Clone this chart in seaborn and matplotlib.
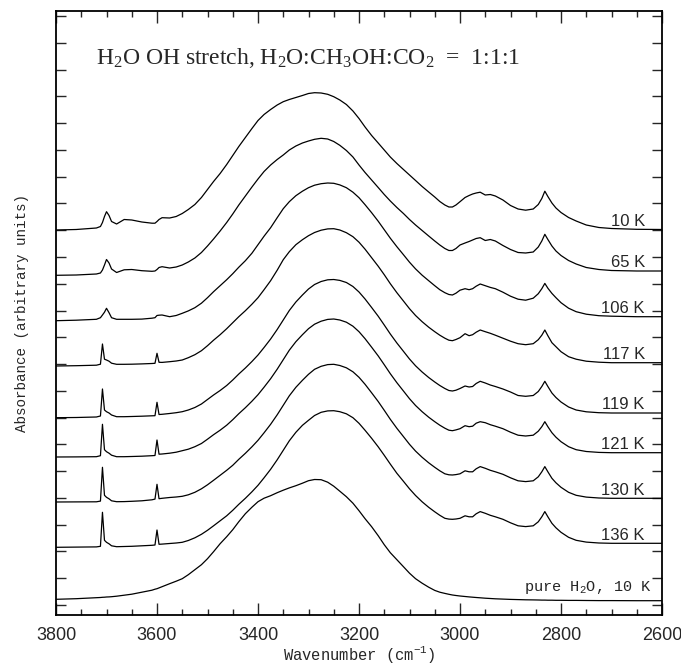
import numpy as np
import pandas as pd
import matplotlib
matplotlib.use("Agg")
import matplotlib.pyplot as plt
from matplotlib import ticker
import seaborn as sns

# wavenumber grid (cm-1) shared by all spectra
wavenumber = [3800, 3760, 3720, 3712, 3708, 3704, 3700, 3695, 3690, 3680,
              3665, 3650, 3630, 3610, 3604, 3600, 3596, 3590, 3575, 3562,
              3550, 3538, 3525, 3512, 3500, 3488, 3475, 3462, 3450, 3438,
              3425, 3412, 3400, 3388, 3375, 3362, 3350, 3338, 3325, 3312,
              3300, 3288, 3275, 3262, 3250, 3238, 3225, 3212, 3200, 3188,
              3175, 3162, 3150, 3138, 3125, 3112, 3100, 3088, 3075, 3062,
              3050, 3040, 3030, 3022, 3015, 3008, 3000, 2990, 2982, 2975,
              2968, 2960, 2950, 2940, 2930, 2915, 2900, 2885, 2870, 2855,
              2845, 2838, 2832, 2826, 2818, 2810, 2800, 2785, 2770, 2750,
              2725, 2700, 2650, 2600]

labels = ["10 K", "65 K", "106 K", "117 K", "119 K", "121 K", "130 K", "136 K",
          "pure H$\\mathregular{_2}$O, 10 K"]

# absorbance (arbitrary units)
abs_10K = [-0.005, 0.0, 0.015, 0.03, 0.07, 0.13, 0.178, 0.14, 0.08, 0.055,
           0.10, 0.095, 0.075, 0.063, 0.063, 0.08, 0.10, 0.118, 0.115, 0.13,
           0.16, 0.20, 0.25, 0.32, 0.40, 0.48, 0.56, 0.65, 0.74, 0.83,
           0.92, 1.01, 1.09, 1.15, 1.20, 1.245, 1.278, 1.30, 1.32, 1.34,
           1.36, 1.368, 1.365, 1.352, 1.328, 1.295, 1.25, 1.185, 1.11, 1.025,
           0.94, 0.865, 0.795, 0.725, 0.66, 0.60, 0.545, 0.49, 0.43, 0.375,
           0.325, 0.28, 0.245, 0.225, 0.225, 0.245, 0.278, 0.32, 0.34, 0.355,
           0.365, 0.373, 0.345, 0.35, 0.335, 0.295, 0.24, 0.205, 0.193, 0.205,
           0.25, 0.31, 0.383, 0.33, 0.265, 0.215, 0.17, 0.12, 0.085, 0.045,
           0.02, 0.01, 0.002, 0.0]
abs_65K = [-0.043, -0.04, -0.03, -0.02, 0.01, 0.06, 0.115, 0.08, 0.02, -0.015,
           0.012, 0.015, 0.003, -0.003, 0.0, 0.015, 0.035, 0.043, 0.03, 0.04,
           0.06, 0.09, 0.13, 0.185, 0.25, 0.32, 0.40, 0.485, 0.57, 0.66,
           0.75, 0.84, 0.92, 0.995, 1.06, 1.115, 1.16, 1.21, 1.25, 1.28,
           1.30, 1.317, 1.327, 1.32, 1.295, 1.257, 1.205, 1.14, 1.06, 0.985,
           0.91, 0.835, 0.765, 0.70, 0.635, 0.575, 0.515, 0.46, 0.405, 0.35,
           0.30, 0.26, 0.225, 0.205, 0.205, 0.225, 0.26, 0.28, 0.295, 0.31,
           0.325, 0.333, 0.305, 0.315, 0.30, 0.255, 0.215, 0.185, 0.18, 0.19,
           0.24, 0.30, 0.367, 0.315, 0.25, 0.20, 0.155, 0.105, 0.07, 0.035,
           0.015, 0.005, 0.0, 0.0]
abs_106K = [-0.04, -0.035, -0.026, -0.01, 0.017, 0.045, 0.084, 0.04, -0.01, -0.026,
            -0.026, -0.026, -0.024, -0.015, -0.01, 0.012, 0.015, 0.017, 0.0, 0.012,
            0.034, 0.058, 0.09, 0.135, 0.19, 0.25, 0.31, 0.37, 0.43, 0.495,
            0.56, 0.635, 0.72, 0.805, 0.89, 0.99, 1.08, 1.15, 1.21, 1.255,
            1.29, 1.315, 1.33, 1.337, 1.334, 1.318, 1.29, 1.245, 1.19, 1.12,
            1.04, 0.955, 0.87, 0.785, 0.70, 0.62, 0.545, 0.478, 0.415, 0.36,
            0.31, 0.27, 0.24, 0.222, 0.217, 0.235, 0.265, 0.28, 0.27, 0.28,
            0.305, 0.327, 0.31, 0.293, 0.28, 0.245, 0.205, 0.175, 0.165, 0.185,
            0.23, 0.28, 0.333, 0.285, 0.233, 0.19, 0.14, 0.085, 0.05, 0.025,
            0.01, 0.005, 0.0, 0.0]
abs_117K = [-0.033, -0.03, -0.025, -0.015, 0.187, 0.035, 0.027, 0.015, -0.005, -0.016,
            -0.016, -0.015, -0.012, -0.008, -0.006, 0.094, 0.004, 0.003, 0.01, 0.017,
            0.027, 0.05, 0.08, 0.12, 0.17, 0.225, 0.28, 0.34, 0.40, 0.46,
            0.52, 0.585, 0.65, 0.73, 0.82, 0.925, 1.03, 1.11, 1.18, 1.23,
            1.27, 1.302, 1.325, 1.338, 1.34, 1.327, 1.30, 1.26, 1.205, 1.135,
            1.05, 0.965, 0.88, 0.79, 0.70, 0.617, 0.54, 0.472, 0.41, 0.355,
            0.31, 0.275, 0.245, 0.225, 0.22, 0.232, 0.25, 0.29, 0.27, 0.28,
            0.305, 0.327, 0.31, 0.294, 0.275, 0.245, 0.215, 0.19, 0.18, 0.19,
            0.23, 0.275, 0.327, 0.27, 0.20, 0.16, 0.11, 0.06, 0.035, 0.015,
            0.005, 0.0, 0.0, 0.0]
abs_119K = [-0.047, -0.045, -0.04, -0.03, 0.24, 0.03, 0.013, 0.0, -0.02, -0.037,
            -0.037, -0.035, -0.032, -0.028, -0.027, 0.107, -0.015, -0.013, -0.005, 0.003,
            0.013, 0.03, 0.055, 0.09, 0.135, 0.18, 0.225, 0.275, 0.33, 0.39,
            0.45, 0.515, 0.58, 0.655, 0.74, 0.835, 0.93, 1.025, 1.11, 1.18,
            1.24, 1.285, 1.315, 1.332, 1.335, 1.326, 1.305, 1.265, 1.21, 1.14,
            1.055, 0.968, 0.88, 0.79, 0.70, 0.617, 0.54, 0.472, 0.41, 0.355,
            0.31, 0.275, 0.245, 0.225, 0.22, 0.228, 0.245, 0.27, 0.26, 0.265,
            0.295, 0.317, 0.30, 0.28, 0.265, 0.24, 0.21, 0.175, 0.167, 0.175,
            0.215, 0.265, 0.317, 0.265, 0.20, 0.155, 0.11, 0.06, 0.03, 0.012,
            0.003, 0.0, 0.0, 0.0]
abs_121K = [-0.043, -0.042, -0.04, -0.03, 0.284, 0.03, 0.01, -0.005, -0.025, -0.04,
            -0.04, -0.038, -0.035, -0.03, -0.028, 0.127, -0.015, -0.013, -0.005, 0.005,
            0.02, 0.035, 0.06, 0.092, 0.135, 0.18, 0.225, 0.275, 0.33, 0.39,
            0.45, 0.515, 0.58, 0.655, 0.74, 0.835, 0.93, 1.025, 1.11, 1.18,
            1.24, 1.285, 1.315, 1.333, 1.337, 1.327, 1.305, 1.265, 1.21, 1.14,
            1.055, 0.968, 0.88, 0.79, 0.70, 0.617, 0.54, 0.472, 0.41, 0.355,
            0.31, 0.275, 0.245, 0.225, 0.22, 0.228, 0.24, 0.27, 0.26, 0.265,
            0.295, 0.31, 0.30, 0.28, 0.265, 0.24, 0.205, 0.175, 0.167, 0.175,
            0.215, 0.26, 0.31, 0.26, 0.20, 0.155, 0.11, 0.06, 0.03, 0.012,
            0.003, 0.0, 0.0, 0.0]
abs_130K = [-0.037, -0.036, -0.035, -0.028, 0.31, 0.03, 0.01, -0.005, -0.025, -0.034,
            -0.033, -0.03, -0.025, -0.015, -0.008, 0.14, -0.004, 0.0, 0.008, 0.013,
            0.02, 0.035, 0.06, 0.095, 0.135, 0.18, 0.23, 0.28, 0.33, 0.39,
            0.45, 0.515, 0.58, 0.655, 0.74, 0.835, 0.93, 1.025, 1.11, 1.18,
            1.24, 1.29, 1.32, 1.337, 1.34, 1.328, 1.305, 1.265, 1.21, 1.14,
            1.055, 0.968, 0.88, 0.79, 0.70, 0.617, 0.54, 0.472, 0.41, 0.355,
            0.31, 0.275, 0.245, 0.235, 0.233, 0.237, 0.245, 0.275, 0.265, 0.265,
            0.295, 0.317, 0.30, 0.28, 0.265, 0.24, 0.205, 0.175, 0.167, 0.175,
            0.215, 0.265, 0.317, 0.265, 0.20, 0.155, 0.11, 0.06, 0.03, 0.012,
            0.003, 0.0, 0.0, 0.0]
abs_136K = [-0.04, -0.038, -0.036, -0.03, 0.31, 0.03, 0.01, -0.005, -0.025, -0.034,
            -0.032, -0.03, -0.025, -0.02, -0.017, 0.133, -0.01, -0.008, -0.002, 0.003,
            0.01, 0.028, 0.055, 0.09, 0.13, 0.175, 0.225, 0.275, 0.33, 0.39,
            0.45, 0.515, 0.58, 0.655, 0.74, 0.835, 0.93, 1.025, 1.11, 1.18,
            1.23, 1.278, 1.31, 1.324, 1.326, 1.316, 1.295, 1.256, 1.20, 1.13,
            1.05, 0.965, 0.88, 0.792, 0.70, 0.62, 0.545, 0.478, 0.415, 0.36,
            0.315, 0.28, 0.25, 0.242, 0.24, 0.243, 0.25, 0.275, 0.265, 0.265,
            0.295, 0.317, 0.30, 0.28, 0.265, 0.24, 0.205, 0.175, 0.167, 0.175,
            0.215, 0.265, 0.317, 0.265, 0.20, 0.155, 0.11, 0.06, 0.03, 0.012,
            0.003, 0.0, 0.0, 0.0]
abs_pure = [0.014, 0.02, 0.03, 0.032, 0.034, 0.035, 0.037, 0.038, 0.04, 0.045,
            0.055, 0.065, 0.085, 0.105, 0.115, 0.12, 0.128, 0.14, 0.17, 0.195,
            0.22, 0.26, 0.31, 0.36, 0.42, 0.49, 0.57, 0.64, 0.71, 0.79,
            0.87, 0.935, 0.99, 1.025, 1.05, 1.08, 1.105, 1.128, 1.15, 1.175,
            1.20, 1.212, 1.21, 1.185, 1.145, 1.095, 1.04, 0.975, 0.90, 0.82,
            0.74, 0.65, 0.56, 0.48, 0.41, 0.34, 0.275, 0.22, 0.175, 0.135,
            0.103, 0.085, 0.073, 0.064, 0.057, 0.052, 0.047, 0.042, 0.038, 0.035,
            0.032, 0.029, 0.025, 0.022, 0.019, 0.016, 0.013, 0.011, 0.009, 0.008,
            0.007, 0.006, 0.006, 0.005, 0.005, 0.004, 0.004, 0.003, 0.003, 0.002,
            0.001, 0.001, 0.0, 0.0]

spectra = [abs_10K, abs_65K, abs_106K, abs_117K, abs_119K, abs_121K,
           abs_130K, abs_136K, abs_pure]

# vertical offsets used to stack the spectra
offsets = [3.855, 3.44, 2.983, 2.523, 2.02, 1.623, 1.167, 0.717, 0.143]

rows = []
for lab, spec, off in zip(labels, spectra, offsets):
    for w, a in zip(wavenumber, spec):
        rows.append({"wavenumber": w, "y": a + off, "spectrum": lab})
df = pd.DataFrame(rows)

sns.set_style("ticks")
plt.rcParams['font.family'] = ['Liberation Sans', 'DejaVu Sans']
plt.rcParams['axes.linewidth'] = 1.3

fig = plt.figure(figsize=(6.81, 6.66), dpi=100)
ax = fig.add_axes([56 / 681, 51 / 666, 606 / 681, 604 / 666])

sns.lineplot(data=df, x="wavenumber", y="y", hue="spectrum",
             palette=["black"] * len(labels), legend=False, sort=False,
             estimator=None, linewidth=0.9, ax=ax)

ax.set_xlim(3800, 2600)
ax.set_ylim(0, 6.04)

ax.xaxis.set_major_locator(ticker.MultipleLocator(200))
ax.xaxis.set_minor_locator(ticker.MultipleLocator(50))
ax.yaxis.set_major_locator(ticker.FixedLocator(0.10 + 0.2677 * np.arange(23)))
ax.yaxis.set_minor_locator(ticker.NullLocator())
ax.set_yticklabels([])

ax.tick_params(axis="x", which="major", direction="in", length=8.5, width=1.0,
               top=True, bottom=True, labelsize=13, pad=9)
ax.tick_params(axis="x", which="minor", direction="in", length=4.3, width=1.0,
               top=True, bottom=True)
ax.tick_params(axis="y", which="major", direction="in", length=7, width=1.0,
               left=True, right=True)
for s in ax.spines.values():
    s.set_color("black")

ax.set_xlabel("Wavenumber (cm$\\mathregular{^{-1}}$)", family="Liberation Mono",
              fontsize=11.2)
ax.xaxis.set_label_coords(303 / 606, -29 / 604)
ax.set_ylabel("Absorbance (arbitrary units)", family="Liberation Mono",
              fontsize=10.3)
ax.yaxis.set_label_coords(-27 / 606, 302 / 604)

ax.text(40 / 606, (615 - 64) / 604,
        "H$\\mathregular{_2}$O OH stretch, H$\\mathregular{_2}$O:CH$\\mathregular{_3}$OH:"
        "CO$\\mathregular{_2}$  =  1:1:1",
        transform=ax.transAxes, family="Liberation Serif", fontsize=17,
        va="baseline", ha="left")

for lab, off in zip(labels, offsets):
    if lab.startswith("pure"):
        ax.text(2620, off + 0.10, lab, family="Liberation Mono", fontsize=11,
                ha="right", va="baseline")
    else:
        ax.text(2634, off + 0.035, lab, fontsize=12, ha="right", va="baseline")

fig.savefig("out.png", dpi=100)
